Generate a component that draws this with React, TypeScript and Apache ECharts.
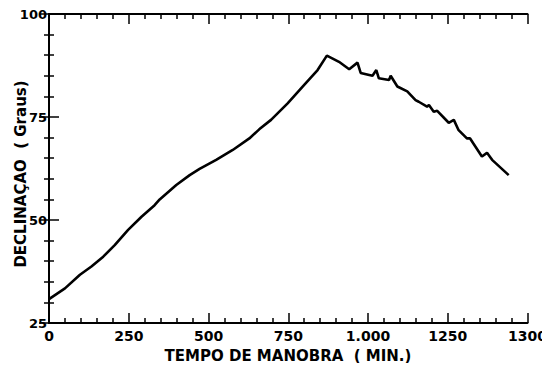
import React, { useEffect, useRef } from "react";
import * as echarts from "echarts";

const timeMin = [0, 50, 97, 133, 170, 206, 248, 290, 331, 347, 399, 441, 472, 524, 576, 628, 659, 696, 748, 800, 842, 871, 909, 941, 967, 977, 1014, 1026, 1034, 1066, 1071, 1092, 1123, 1149, 1159, 1185, 1191, 1206, 1217, 1253, 1269, 1284, 1310, 1320, 1357, 1373, 1389, 1441];
const declination = [30.8, 33.4, 36.7, 38.7, 41.1, 43.9, 47.6, 50.8, 53.6, 55.0, 58.5, 60.9, 62.4, 64.6, 67.0, 69.8, 72.0, 74.3, 78.3, 82.8, 86.4, 89.9, 88.4, 86.6, 88.2, 85.7, 85.0, 86.4, 84.4, 84.0, 85.0, 82.4, 81.2, 79.1, 78.7, 77.5, 77.9, 76.3, 76.5, 73.6, 74.3, 71.8, 69.8, 69.8, 65.4, 66.3, 64.6, 60.9];

const xTickValues = [0, 250, 500, 750, 1000, 1250, 1500];
const xTickLabels = ["0", "250", "500", "750", "1.000", "1250", "1300"];
const yTickValues = [25, 50, 75, 100];
const yTickLabels = ["25", "50", "75", "100"];

const xTitle = "TEMPO DE MANOBRA  ( MIN.)";
const yTitle = "DECLINAÇAO  ( Graus)";

const FONT = "DejaVu Sans";

export default function App() {
  const ref = useRef<HTMLDivElement>(null);
  useEffect(() => {
    if (!ref.current) return;
    const chart = echarts.init(ref.current, null, { renderer: "svg" });
    const axisLine = { show: true, lineStyle: { color: "#000", width: 2 } };
    const axisTick = { show: true, inside: true, length: 10, lineStyle: { color: "#000", width: 1.5 } };
    const minorTick = { show: true, splitNumber: 5, length: 5, lineStyle: { color: "#000", width: 1.5 } };
    const xBase = {
      type: "value" as const,
      min: 0,
      max: 1500,
      interval: 250,
      axisLine,
      axisTick,
      minorTick,
      splitLine: { show: false },
    };
    const yBase = {
      type: "value" as const,
      min: 25,
      max: 100,
      interval: 25,
      axisLine,
      axisTick,
      minorTick,
      splitLine: { show: false },
    };
    chart.setOption({
      animation: false,
      backgroundColor: "#fff",
      grid: { left: 49, right: 21, top: 14, bottom: 48, containLabel: false },
      xAxis: [
        {
          ...xBase,
          position: "bottom",
          axisLabel: {
            show: true,
            margin: 6,
            color: "#000",
            fontFamily: FONT,
            fontWeight: "bold",
            fontSize: 14,
            formatter: (v: number) => {
              const i = xTickValues.indexOf(v);
              return i >= 0 ? xTickLabels[i] : "";
            },
          },
        },
        { ...xBase, position: "top", axisLabel: { show: false } },
      ],
      yAxis: [
        {
          ...yBase,
          position: "left",
          axisLabel: {
            show: true,
            margin: 2,
            color: "#000",
            fontFamily: FONT,
            fontWeight: "bold",
            fontSize: 13,
            formatter: (v: number) => {
              const i = yTickValues.indexOf(v);
              return i >= 0 ? yTickLabels[i] : "";
            },
          },
        },
        { ...yBase, position: "right", axisLabel: { show: false } },
      ],
      graphic: [
        {
          type: "text",
          x: 288,
          y: 356,
          style: {
            text: xTitle,
            fontFamily: FONT,
            fontWeight: "bold",
            fontSize: 15,
            fill: "#000",
            align: "center",
            verticalAlign: "middle",
          },
        },
        {
          type: "text",
          x: 21,
          y: 174,
          rotation: Math.PI / 2,
          style: {
            text: yTitle,
            fontFamily: FONT,
            fontWeight: "bold",
            fontSize: 15,
            fill: "#000",
            align: "center",
            verticalAlign: "middle",
          },
        },
      ],
      series: [
        {
          type: "line",
          xAxisIndex: 0,
          yAxisIndex: 0,
          data: timeMin.map((t, i) => [t, declination[i]]),
          showSymbol: false,
          symbol: "none",
          lineStyle: { color: "#000", width: 2.6 },
          smooth: false,
        },
      ],
    });
    return () => chart.dispose();
  }, []);
  return <div ref={ref} style={{ width: 550, height: 371, margin: -8 }} />;
}
